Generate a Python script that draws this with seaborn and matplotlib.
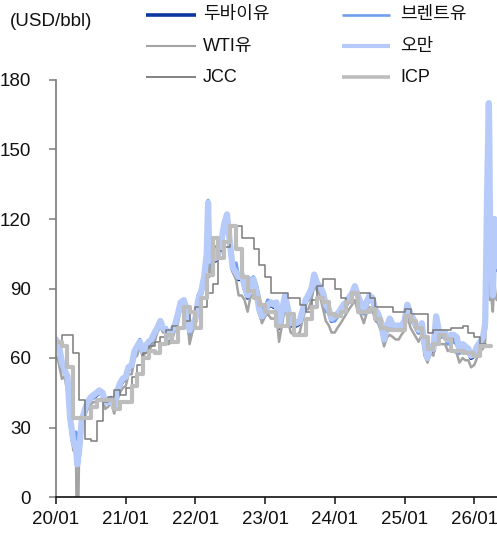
import matplotlib
matplotlib.use("Agg")
import matplotlib.pyplot as plt
from matplotlib.lines import Line2D
import pandas as pd
import seaborn as sns

sns.set_theme(style="white")
plt.rcParams["font.family"] = ["Liberation Sans", "Noto Sans CJK KR"]

# ---------------- data ----------------
names = ["두바이유", "브렌트유", "WTI유", "오만", "JCC", "ICP"]
unit_label = "(USD/bbl)"
year_ticks = ["2020-01-01", "2021-01-01", "2022-01-01", "2023-01-01",
              "2024-01-01", "2025-01-01", "2026-01-01"]
tick_labels = ["20/01", "21/01", "22/01", "23/01", "24/01", "25/01", "26/01"]

extra_dates = ["2020-04-21", "2022-03-08"]
spike_dates = ["2026-02-20", "2026-02-27", "2026-03-03", "2026-03-09", "2026-03-13",
               "2026-03-18", "2026-03-20", "2026-03-24", "2026-03-27", "2026-03-31",
               "2026-04-03", "2026-04-08", "2026-04-13", "2026-04-17", "2026-04-22",
               "2026-04-28"]

dubai = [
    67, 65, 57, 54, 51, 33, 23, 20, 13, 18, 31, 37, 40, 43, 43, 44, 45, 45, 41, 41, 42, 38, 44, 48, 50,
    51, 55, 56, 62, 64, 66, 62, 64, 66, 67, 70, 72, 75, 72, 72, 68, 71, 73, 78, 83, 84, 80, 71, 73,
    76, 84, 88, 94, 103, 125, 101, 106, 102, 104, 109, 116, 120, 108, 98, 96, 94, 95, 90, 86, 92, 93, 88, 80, 77,
    79, 82, 83, 82, 83, 73, 80, 86, 80, 74, 74, 74, 75, 79, 84, 86, 89, 94, 91, 90, 87, 82, 80, 76,
    77, 78, 80, 82, 83, 85, 87, 90, 86, 83, 80, 83, 86, 85, 80, 78, 74, 67, 73, 76, 73, 73, 73, 73,
    75, 81, 78, 76, 73, 71, 74, 65, 60, 64, 63, 76, 70, 70, 70, 67, 69, 69, 68, 63, 65, 64, 63, 60,
    61, 64, 66, 68, 70, 73, 90, 120, 138, 158, 150, 118, 104, 112, 96, 86, 98, 116, 108, 98,
]
brent = [
    66, 64, 58, 57, 51, 34, 25, 28, 19, 26, 32, 38, 40, 42, 43, 44, 45, 45, 41, 41, 43, 38, 43, 48, 50,
    51, 55, 56, 62, 64, 68, 63, 66, 67, 68, 69, 73, 75, 73, 73, 69, 72, 74, 78, 84, 85, 82, 70, 74,
    78, 87, 90, 95, 106, 128, 99, 105, 108, 106, 111, 117, 120, 112, 100, 101, 95, 97, 91, 88, 94, 95, 92, 86, 80,
    82, 85, 84, 84, 84, 74, 80, 85, 79, 75, 75, 76, 76, 80, 85, 85, 88, 94, 93, 90, 85, 80, 80, 76,
    76, 78, 80, 82, 83, 85, 87, 91, 86, 83, 79, 83, 86, 85, 80, 80, 76, 70, 73, 75, 73, 72, 72, 73,
    76, 82, 76, 75, 73, 71, 74, 65, 61, 64, 64, 78, 69, 69, 70, 66, 68, 67, 66, 62, 64, 63, 63, 61,
    61, 64, 67, 69, 70, 73, 85, 110, 112, 120, 115, 100, 105, 108, 98, 92, 100, 110, 104, 100,
]
wti = [
    61, 58, 51, 52, 45, 31, 20, 19, -37, 19, 29, 35, 38, 40, 41, 41, 42, 43, 38, 39, 41, 36, 41, 45, 47,
    48, 53, 53, 60, 61, 65, 60, 63, 63, 65, 67, 71, 74, 71, 71, 66, 68, 72, 75, 81, 84, 80, 66, 71,
    75, 85, 88, 92, 103, 123, 95, 100, 106, 104, 110, 115, 116, 106, 97, 94, 87, 87, 85, 80, 86, 88, 85, 80, 75,
    78, 79, 77, 77, 78, 67, 75, 82, 76, 71, 70, 70, 71, 76, 81, 81, 85, 91, 89, 87, 81, 76, 74, 71,
    71, 73, 75, 77, 79, 81, 83, 85, 80, 79, 75, 79, 82, 81, 76, 75, 71, 65, 69, 70, 69, 68, 68, 70,
    72, 78, 73, 71, 69, 67, 70, 61, 58, 62, 61, 72, 66, 66, 66, 63, 64, 63, 62, 58, 60, 59, 59, 56,
    57, 60, 63, 64, 65, 67, 75, 90, 92, 100, 95, 85, 88, 90, 84, 80, 88, 92, 88, 85,
]
oman = [
    68, 66, 58, 55, 52, 34, 24, 21, 14, 20, 33, 38, 41, 43, 44, 45, 46, 45, 41, 41, 42, 39, 45, 49, 51,
    52, 56, 57, 63, 65, 67, 63, 65, 67, 68, 71, 73, 76, 73, 72, 69, 72, 74, 79, 84, 85, 81, 72, 74,
    77, 85, 89, 95, 105, 127, 102, 107, 103, 105, 110, 118, 122, 109, 99, 97, 95, 96, 91, 87, 93, 94, 89, 81, 78,
    80, 83, 84, 83, 84, 74, 81, 87, 81, 75, 75, 75, 76, 80, 85, 87, 90, 96, 92, 91, 88, 83, 81, 77,
    78, 79, 81, 83, 84, 86, 88, 91, 87, 84, 81, 84, 87, 86, 81, 79, 75, 68, 74, 77, 74, 74, 74, 74,
    76, 83, 79, 77, 74, 72, 75, 66, 60, 65, 64, 78, 71, 71, 71, 68, 70, 70, 69, 64, 66, 65, 64, 61,
    62, 65, 67, 69, 71, 75, 95, 130, 148, 170, 160, 122, 106, 115, 97, 87, 100, 120, 110, 100,
]
# monthly (Jan 2020 onwards)
jcc = [
    67, 70, 70, 62, 42, 25, 24, 33, 41, 43, 46, 44,
    47, 52, 57, 62, 65, 67, 69, 72, 74, 73, 76, 80,
    82, 82, 88, 92, 106, 108, 117, 117, 112, 112, 107, 100,
    95, 88, 88, 88, 86, 86, 83, 80, 85, 91, 94, 94,
    90, 86, 84, 88, 88, 88, 86, 82, 82, 82, 80, 80,
    81, 79, 79, 79, 71, 72, 72, 72, 73, 73, 74, 71,
    69, 66, 65,
]
icp = [
    67, 65, 56, 34, 34, 34, 39, 42, 42, 42, 38, 41,
    41, 48, 53, 60, 63, 62, 66, 70, 67, 73, 82, 80,
    73, 86, 96, 112, 103, 110, 117, 107, 95, 89, 86, 83,
    80, 80, 74, 74, 79, 70, 70, 77, 82, 86, 84, 79,
    78, 80, 84, 88, 80, 80, 81, 77, 73, 72, 72, 72,
    78, 76, 73, 69, 64, 66, 70, 68, 63, 63, 62, 62,
    61, 65, 65, 65,
]

# ---------------- dates ----------------
semi = []
for y in range(2020, 2026):
    for m in range(1, 13):
        for d in (1, 15):
            semi.append(f"{y}-{m:02d}-{d:02d}")
semi += ["2026-01-01", "2026-01-15", "2026-02-01", "2026-02-15"]
daily_dates = pd.to_datetime(sorted(semi + extra_dates + spike_dates))
assert len(daily_dates) == len(dubai) == len(brent) == len(wti) == len(oman)

jcc_dates = pd.date_range("2020-01-01", periods=len(jcc), freq="MS")
icp_dates = pd.date_range("2020-01-01", periods=len(icp), freq="MS")

df = pd.concat([
    pd.DataFrame({"date": daily_dates, "value": dubai, "series": names[0]}),
    pd.DataFrame({"date": daily_dates, "value": brent, "series": names[1]}),
    pd.DataFrame({"date": daily_dates, "value": wti, "series": names[2]}),
    pd.DataFrame({"date": daily_dates, "value": oman, "series": names[3]}),
    pd.DataFrame({"date": jcc_dates, "value": jcc, "series": names[4]}),
    pd.DataFrame({"date": icp_dates, "value": icp, "series": names[5]}),
])

styles = {
    "두바이유": dict(color="#0b379e", lw=3.0, llw=2.6, ds="default"),
    "브렌트유": dict(color="#6f9ef0", lw=2.5, llw=1.9, ds="default"),
    "WTI유": dict(color="#a3a3a3", lw=1.8, llw=1.5, ds="default"),
    "오만": dict(color="#b6cbf9", lw=4.5, llw=3.0, ds="default"),
    "JCC": dict(color="#7a7a7a", lw=1.1, llw=1.3, ds="steps-post"),
    "ICP": dict(color="#bdbdbd", lw=3.0, llw=2.6, ds="steps-post"),
}

# ---------------- figure ----------------
W, H = 497, 534
fig = plt.figure(figsize=(W / 100, H / 100), dpi=100)
ax = fig.add_axes([56 / W, 37 / H, (W - 56) / W, (497 - 80) / H])

for n in names:
    s = styles[n]
    sns.lineplot(data=df[df["series"] == n], x="date", y="value", ax=ax,
                 color=s["color"], linewidth=s["lw"], drawstyle=s["ds"],
                 estimator=None, sort=False, legend=False)

ax.set_ylim(0, 180)
ax.set_yticks(range(0, 181, 30))
ax.set_xlim(pd.Timestamp("2020-01-01"), pd.Timestamp("2026-04-30"))
ax.set_xticks(pd.to_datetime(year_ticks))
ax.set_xticklabels(tick_labels)
ax.set_xlabel("")
ax.set_ylabel("")

for sp in ("top", "right"):
    ax.spines[sp].set_visible(False)
ax.spines["left"].set_color("#7a7a7a")
ax.spines["left"].set_linewidth(1.2)
ax.spines["bottom"].set_color("#111111")
ax.spines["bottom"].set_linewidth(1.2)

ax.tick_params(axis="y", which="major", left=True, length=5, width=1.1,
               color="#7a7a7a", pad=13, labelsize=13.5, labelcolor="#111111")
ax.tick_params(axis="x", which="major", bottom=True, length=5, width=1.1,
               color="#111111", pad=5, labelsize=13.5, labelcolor="#111111")

fig.text(10 / W, 1 - 22 / H, unit_label, fontsize=13.5, va="center", ha="left",
         color="#111111")

# legend: 2 columns x 3 rows (row-wise order as in the reference)
col_x = [(146, 196, 203), (342, 390, 400)]
row_y = [15, 46, 77]
for i, n in enumerate(names):
    c = col_x[i % 2]
    yy = 1 - row_y[i // 2] / H
    s = styles[n]
    fig.add_artist(Line2D([c[0] / W, c[1] / W], [yy, yy], transform=fig.transFigure,
                          color=s["color"], linewidth=s["llw"], solid_capstyle="butt"))
    fig.text(c[2] / W, yy, n, fontsize=13, va="center", ha="left", color="#111111",
             family=["Liberation Sans", "Noto Sans CJK KR"])

fig.savefig("out.png", dpi=100)
